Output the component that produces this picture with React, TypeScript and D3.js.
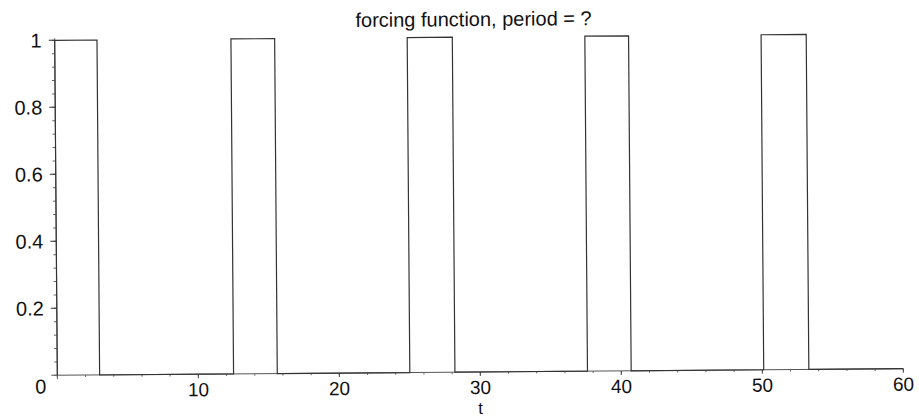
import React, { useEffect, useRef } from "react";
import * as d3 from "d3";

// pulses of the forcing function (t where it switches on / off)
const pulseStart = [0, 12.5, 25, 37.6, 50.1];
const pulseEnd = [3, 15.6, 28.2, 40.7, 53.3];
const pulseHeight = [1, 1, 1, 1, 1];

const xTicks = [10, 20, 30, 40, 50, 60];
const yTicks = [0.2, 0.4, 0.6, 0.8, 1];
const yTickLabels = ["0.2", "0.4", "0.6", "0.8", "1"];

const title = "forcing function, period = ?";
const xLabel = "t";

export default function App() {
    const ref = useRef<SVGSVGElement>(null);

    const width = 919;
    const height = 418;

    useEffect(() => {
        const svg = d3.select(ref.current);
        svg.selectAll("*").remove();

        const x = d3.scaleLinear().domain([0, 60]).range([56, 902]);
        const y = d3.scaleLinear().domain([0, 1]).range([372, 37]);

        // the scanned original is a little tilted
        const g = svg.append("g").attr("transform", "rotate(-0.45, 478, 205)");

        const font = "'Liberation Sans', Arial, sans-serif";

        // step line built from the pulse arrays
        let pts: [number, number][] = [];
        for (let i = 0; i < pulseStart.length; i++) {
            pts.push([pulseStart[i], 0]);
            pts.push([pulseStart[i], pulseHeight[i]]);
            pts.push([pulseEnd[i], pulseHeight[i]]);
            pts.push([pulseEnd[i], 0]);
        }
        pts.push([60, 0]);

        // axes
        g.append("line")
            .attr("x1", x(0)).attr("x2", x(0))
            .attr("y1", y(0) + 4).attr("y2", y(1) - 2)
            .attr("stroke", "#666").attr("stroke-width", 1);
        g.append("line")
            .attr("x1", x(0) - 6).attr("x2", x(60))
            .attr("y1", y(0)).attr("y2", y(0))
            .attr("stroke", "#555").attr("stroke-width", 1);

        // y ticks, major and minor
        let yMinor = d3.range(0, 1.0001, 0.04);
        g.selectAll(".ym").data(yMinor).enter().append("line")
            .attr("x1", x(0) - 3).attr("x2", x(0))
            .attr("y1", d => y(d)).attr("y2", d => y(d))
            .attr("stroke", "#666");
        g.selectAll(".yM").data(yTicks).enter().append("line")
            .attr("x1", x(0) - 6).attr("x2", x(0))
            .attr("y1", d => y(d)).attr("y2", d => y(d))
            .attr("stroke", "#333");

        // x ticks
        let xMinor = d3.range(0, 60.001, 2);
        g.selectAll(".xm").data(xMinor).enter().append("line")
            .attr("x1", d => x(d)).attr("x2", d => x(d))
            .attr("y1", y(0)).attr("y2", y(0) + 2)
            .attr("stroke", "#666");
        g.selectAll(".xM").data(xTicks).enter().append("line")
            .attr("x1", d => x(d)).attr("x2", d => x(d))
            .attr("y1", y(0)).attr("y2", y(0) + 4)
            .attr("stroke", "#444");

        // the function
        const line = d3.line<[number, number]>()
            .x(d => x(d[0]))
            .y(d => y(d[1]));
        g.append("path")
            .datum(pts)
            .attr("d", line)
            .attr("fill", "none")
            .attr("stroke", "#333")
            .attr("stroke-width", 1.2);

        // labels
        g.selectAll(".yl").data(yTicks).enter().append("text")
            .attr("x", 43)
            .attr("y", d => y(d) + 7)
            .attr("text-anchor", "end")
            .attr("font-family", font)
            .attr("font-size", 20)
            .attr("fill", "#111")
            .text((d, i) => yTickLabels[i]);
        g.append("text")
            .attr("x", 45).attr("y", y(0) + 18)
            .attr("text-anchor", "end")
            .attr("font-family", font).attr("font-size", 20)
            .attr("fill", "#111")
            .text("0");

        g.selectAll(".xl").data(xTicks).enter().append("text")
            .attr("x", d => x(d))
            .attr("y", y(0) + 22)
            .attr("text-anchor", "middle")
            .attr("font-family", font)
            .attr("font-size", 19)
            .attr("fill", "#111")
            .text(d => String(d));

        g.append("text")
            .attr("x", x(30)).attr("y", y(0) + 42)
            .attr("text-anchor", "middle")
            .attr("font-family", font).attr("font-size", 17)
            .attr("fill", "#111")
            .text(xLabel);

        g.append("text")
            .attr("x", 475).attr("y", 26)
            .attr("text-anchor", "middle")
            .attr("font-family", font).attr("font-size", 20)
            .attr("fill", "#111")
            .text(title);
    }, []);

    return (
        <svg ref={ref} width={width} height={height}
            style={{ position: "absolute", left: 0, top: 0, background: "#fff" }}>
        </svg>
    );
}
